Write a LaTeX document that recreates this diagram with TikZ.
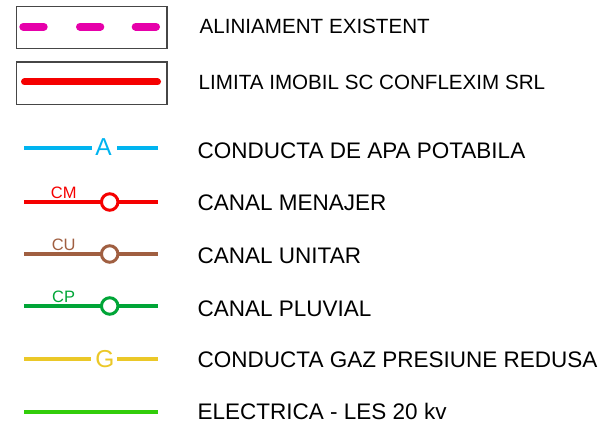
\documentclass[tikz,border=0pt]{standalone}
\usepackage{fontspec}
\setmainfont{Liberation Sans}
\definecolor{cmag}{RGB}{230,0,170}
\definecolor{cred}{RGB}{245,0,0}
\definecolor{ccyan}{RGB}{0,180,240}
\definecolor{cbrown}{RGB}{160,95,65}
\definecolor{cgreen}{RGB}{0,165,55}
\definecolor{cyel}{RGB}{235,200,40}
\definecolor{clime}{RGB}{50,205,10}
\definecolor{cbox}{RGB}{70,70,70}
\begin{document}
\begin{tikzpicture}[x=1pt,y=-1pt,
  legtext/.style={anchor=base west,inner sep=0pt,font=\fontsize{22.5}{24}\selectfont},
  legtextsm/.style={anchor=base west,inner sep=0pt,font=\fontsize{20.6}{23}\selectfont},
  framebox/.style={draw=cbox,line width=1.6pt},
  symline/.style={line width=3.1pt},
  manhole/.style={circle,draw,line width=3pt,fill=white,minimum size=16.5pt,inner sep=0pt},
  smalllab/.style={anchor=base,inner sep=0pt,font=\fontsize{16.5}{18}\selectfont},
  biglab/.style={anchor=base,inner sep=0pt,font=\fontsize{24.5}{26}\selectfont}]
\useasboundingbox (0,0) rectangle (604,430);
% boxes
\node[framebox,minimum width=150.6pt,minimum height=42pt,anchor=north west,inner sep=0pt] (b1) at (15.8,5.8) {};
\node[framebox,minimum width=150.6pt,minimum height=42.6pt,anchor=north west,inner sep=0pt] (b2) at (15.8,61.2) {};
% dashed alignment
\coordinate (d1a) at (23.3,26.7); \coordinate (d1b) at (43.7,26.7);
\coordinate (d2a) at (80,26.7); \coordinate (d2b) at (100.3,26.7);
\coordinate (d3a) at (135.7,26.7); \coordinate (d3b) at (156,26.7);
\draw[cmag,line width=8pt,line cap=round] (d1a) -- (d1b) (d2a) -- (d2b) (d3a) -- (d3b);
% red limit
\coordinate (r1) at (24.5,82); \coordinate (r2) at (157.5,82);
\draw[cred,line width=7pt,line cap=round] (r1) -- (r2);
% A
\node[biglab,text=ccyan] (la) at (103.5,156) {A};
\coordinate (a1) at (24,148); \coordinate (a2) at (92,148);
\coordinate (a3) at (117,148); \coordinate (a4) at (158,148);
\draw[ccyan,symline] (a1) -- (a2) (a3) -- (a4);
% CM
\coordinate (m1) at (24,202); \coordinate (m2) at (158,202);
\draw[cred,symline] (m1) -- (m2);
\node[manhole,draw=cred] (mc) at (109.7,202) {};
\node[smalllab,text=cred] (ml) at (63.7,198.3) {CM};
% CU
\coordinate (u1) at (24,254); \coordinate (u2) at (158,254);
\draw[cbrown,symline] (u1) -- (u2);
\node[manhole,draw=cbrown] (uc) at (109.7,254) {};
\node[smalllab,text=cbrown] (ul) at (63.7,250) {CU};
% CP
\coordinate (p1) at (24,306) ; \coordinate (p2) at (158,306);
\draw[cgreen,symline] (p1) -- (p2);
\node[manhole,draw=cgreen] (pc) at (109.7,306) {};
\node[smalllab,text=cgreen] (pl) at (63.7,302) {CP};
% G
\node[biglab,text=cyel] (lg) at (105,367.5) {G};
\coordinate (g1) at (24,359); \coordinate (g2) at (91,359);
\coordinate (g3) at (117,359); \coordinate (g4) at (158,359);
\draw[cyel,symline] (g1) -- (g2) (g3) -- (g4);
% electrica
\coordinate (e1) at (24,412); \coordinate (e2) at (158,412);
\draw[clime,symline] (e1) -- (e2);
% texts
\node[legtextsm] (t1) at (199.5,34) {ALINIAMENT EXISTENT};
\node[legtextsm] (t2) at (198.5,90) {LIMITA IMOBIL SC CONFLEXIM SRL};
\node[legtext] (t3) at (197.5,159) {CONDUCTA DE APA POTABILA};
\node[legtext] (t4) at (197.5,211) {CANAL MENAJER};
\node[legtext] (t5) at (197.5,263.3) {CANAL UNITAR};
\node[legtext] (t6) at (197.5,316) {CANAL PLUVIAL};
\node[legtext] (t7) at (197.5,367.7) {CONDUCTA GAZ PRESIUNE REDUSA};
\node[legtext] (t8) at (197.5,419.3) {ELECTRICA - LES 20 kv};
\end{tikzpicture}
\end{document}
